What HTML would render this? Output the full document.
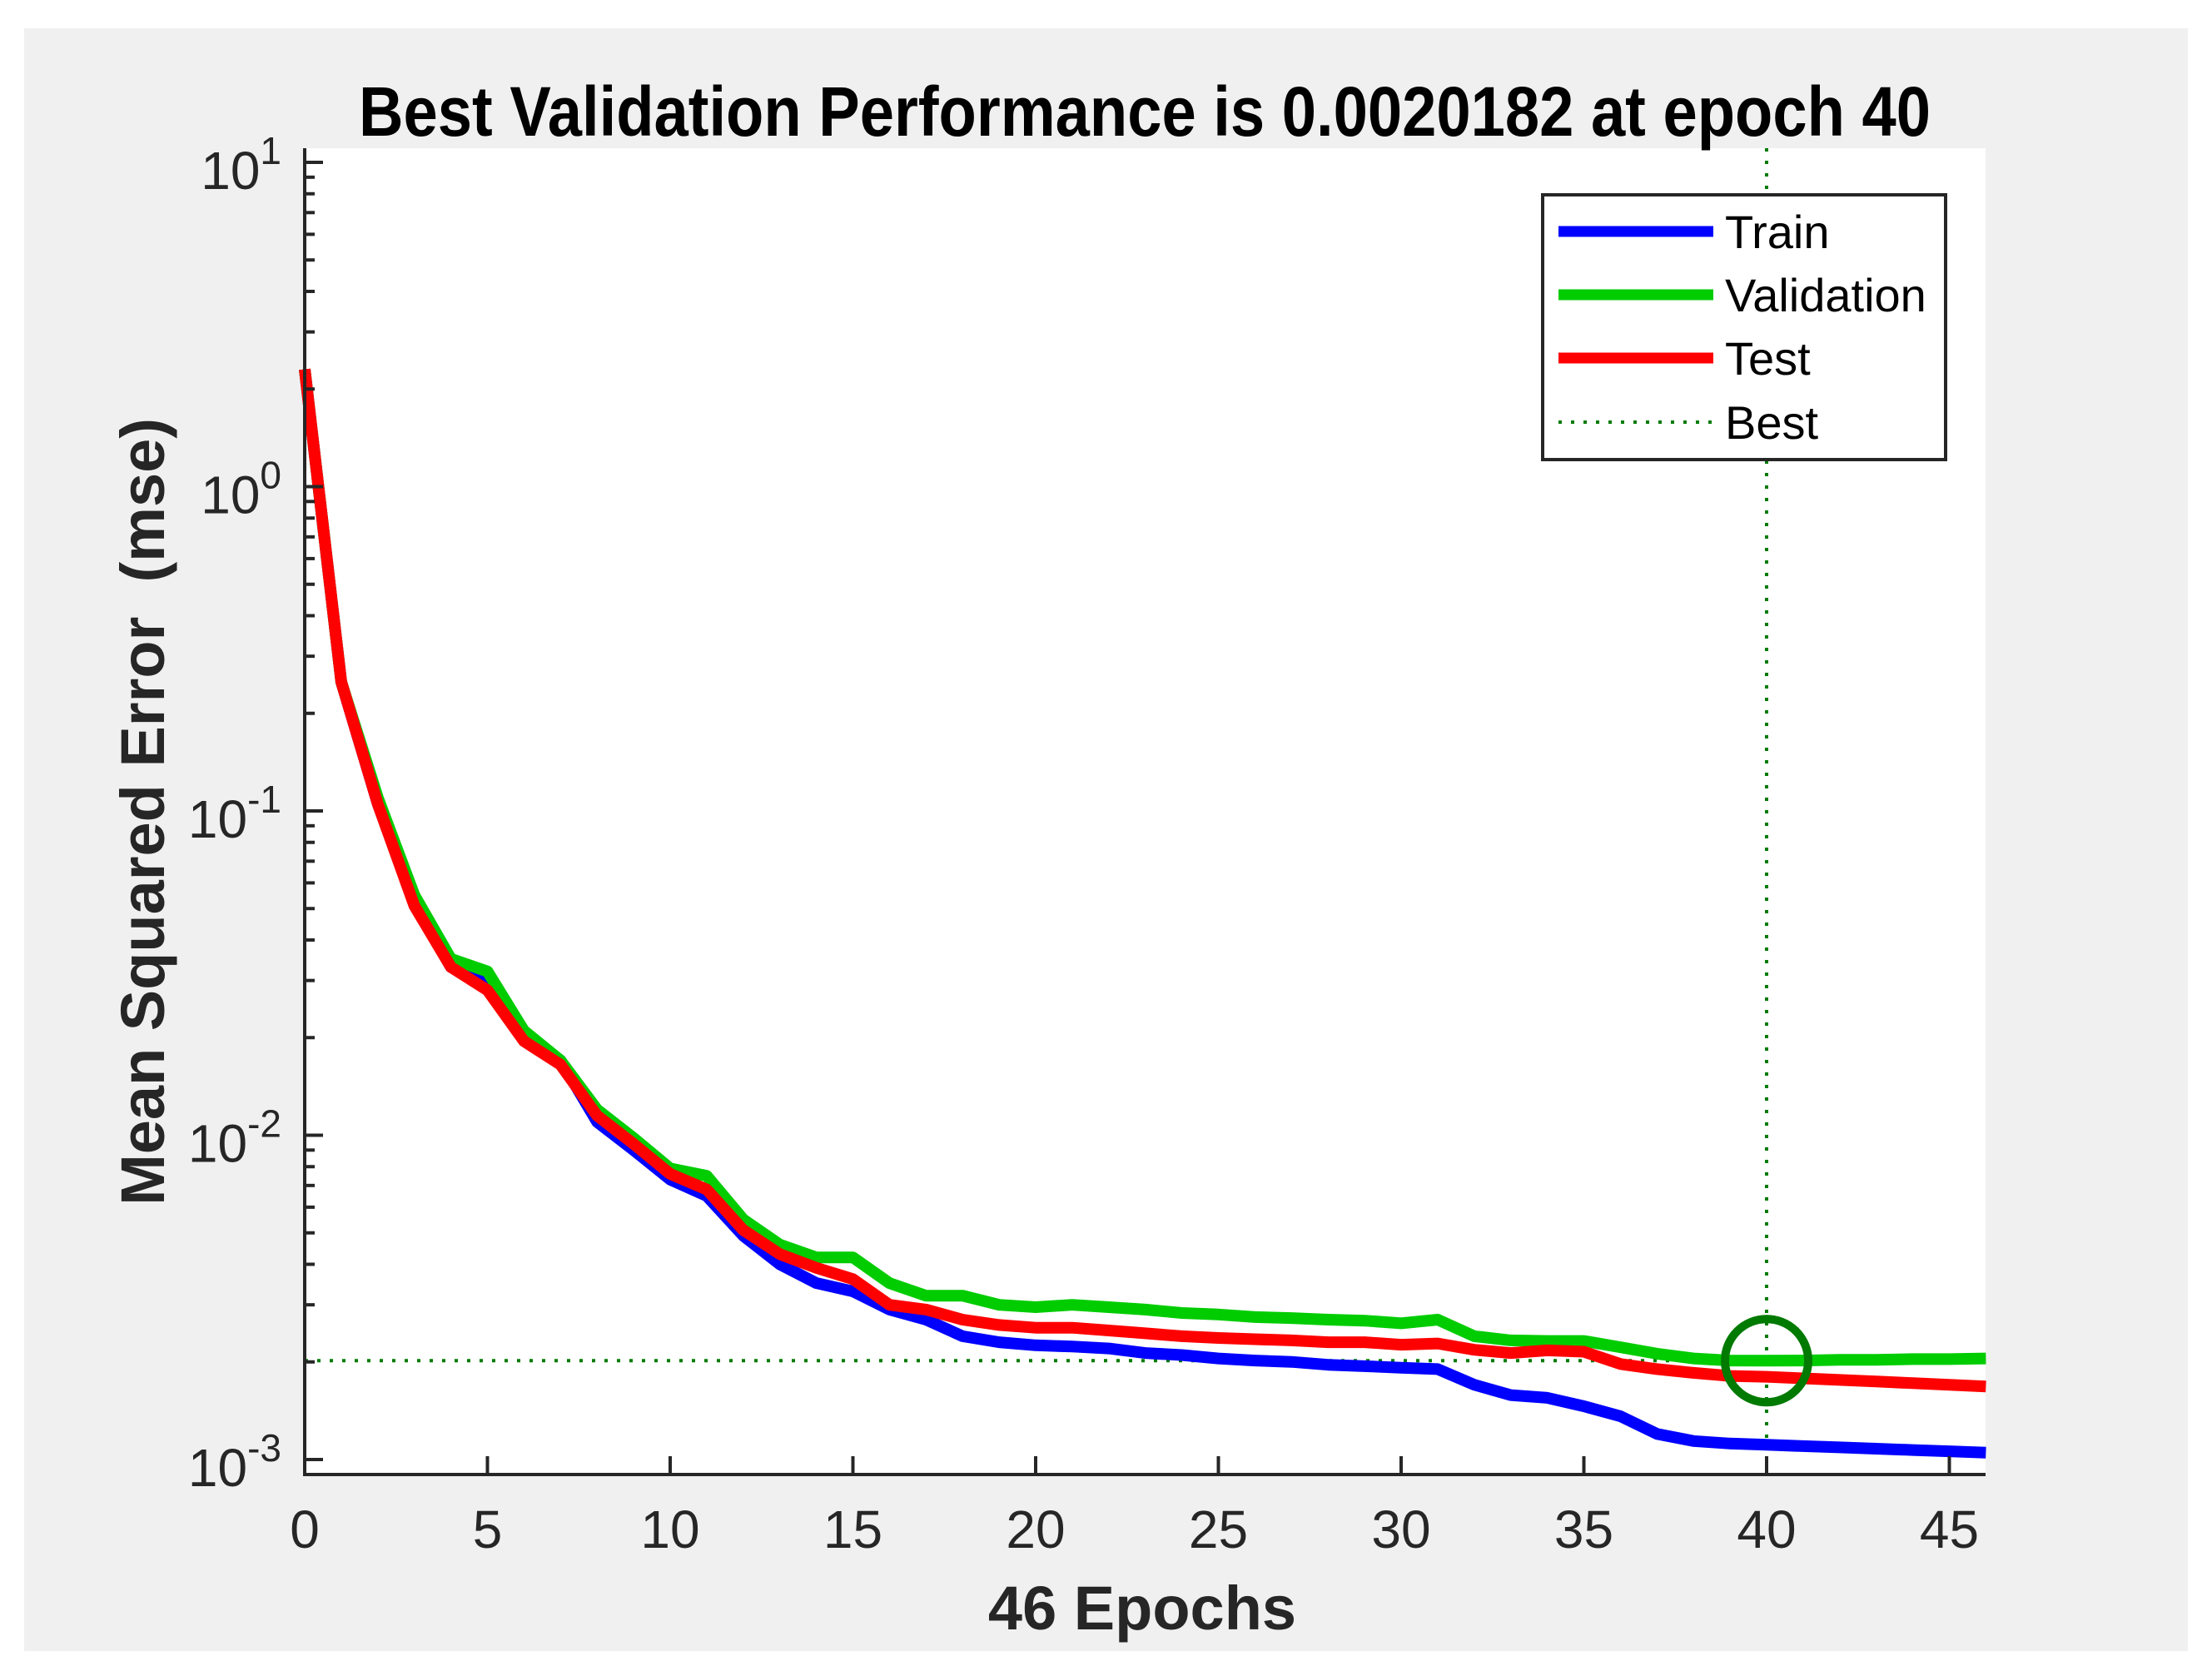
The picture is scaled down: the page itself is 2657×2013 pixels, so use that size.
<!DOCTYPE html>
<html><head><meta charset="utf-8"><style>
html,body{margin:0;padding:0;background:#fff;}
svg{display:block;font-family:"Liberation Sans",Arial,sans-serif;}
</style></head><body>
<svg id="chart" width="2657" height="2013" viewBox="0 0 2657 2013">
<rect x="0" y="0" width="2657" height="2013" fill="#ffffff"/>
<rect x="29" y="34" width="2599" height="1949" fill="#f0f0f0"/>
<rect x="366" y="178" width="2019" height="1593" fill="#ffffff"/>
<text x="1375" y="163" font-size="84" font-weight="bold" text-anchor="middle" textLength="1888" lengthAdjust="spacingAndGlyphs" fill="#000">Best Validation Performance is 0.0020182 at epoch 40</text>
<text x="1372" y="1957" font-size="74" font-weight="bold" text-anchor="middle" fill="#262626">46 Epochs</text>
<text transform="translate(197,975) rotate(-90)" font-size="74" font-weight="bold" text-anchor="middle" fill="#262626">Mean Squared Error&#160; (mse)</text>
<g id="grid"></g>
<g id="series"></g>
<g id="axes"></g>
<g id="legend">
<rect x="1853" y="234" width="484" height="318" fill="#fff" stroke="#262626" stroke-width="4"/>
<line x1="1872" y1="278" x2="2058" y2="278" stroke="#0000ff" stroke-width="13"/>
<text x="2072" y="298" font-size="56" fill="#000">Train</text>
<line x1="1872" y1="354" x2="2058" y2="354" stroke="#00cc00" stroke-width="13"/>
<text x="2072" y="374" font-size="56" fill="#000">Validation</text>
<line x1="1872" y1="430" x2="2058" y2="430" stroke="#ff0000" stroke-width="13"/>
<text x="2072" y="450" font-size="56" fill="#000">Test</text>
<line x1="1872" y1="507" x2="2058" y2="507" stroke="#007a00" stroke-width="4" stroke-dasharray="4 11"/>
<text x="2072" y="527" font-size="56" fill="#000">Best</text>
</g>
</svg>
<script>
const epochs = [0,1,2,3,4,5,6,7,8,9,10,11,12,13,14,15,16,17,18,19,20,21,22,23,24,25,26,27,28,29,30,31,32,33,34,35,36,37,38,39,40,41,42,43,44,45,46];
const trainMse = [2.3,0.25,0.105,0.052,0.033,0.030,0.020,0.017,0.011,0.009,0.0073,0.0065,0.0049,0.0040,0.0035,0.0033,0.0029,0.0027,0.0024,0.0023,0.00225,0.00223,0.0022,0.00213,0.0021,0.00205,0.00202,0.002,0.00196,0.00194,0.00192,0.0019,0.0017,0.00158,0.00155,0.00146,0.00136,0.0012,0.00114,0.00112,0.00111,0.0011,0.00109,0.00108,0.00107,0.00106,0.00105];
const validationMse = [2.3,0.25,0.11,0.055,0.035,0.032,0.021,0.017,0.012,0.0098,0.0079,0.0075,0.0055,0.0046,0.0042,0.0042,0.0035,0.0032,0.0032,0.003,0.00295,0.003,0.00295,0.0029,0.00283,0.0028,0.00275,0.00273,0.0027,0.00268,0.00263,0.0027,0.0024,0.00233,0.00232,0.00232,0.00222,0.00212,0.00205,0.00202,0.0020182,0.00202,0.00203,0.00203,0.00204,0.00204,0.00205];
const testMse = [2.3,0.25,0.105,0.051,0.033,0.028,0.0195,0.0165,0.0115,0.0094,0.0076,0.0068,0.0051,0.0043,0.0039,0.0036,0.003,0.0029,0.0027,0.0026,0.00255,0.00255,0.0025,0.00245,0.0024,0.00237,0.00235,0.00233,0.0023,0.0023,0.00226,0.00228,0.00218,0.00213,0.00217,0.00215,0.00197,0.0019,0.00185,0.00181,0.0018,0.00178,0.00176,0.00174,0.00172,0.0017,0.00168];
const bestEpoch = 40;
const bestValue = 0.0020182;
const xTicks = [0,5,10,15,20,25,30,35,40,45];
const yDecades = [-3,-2,-1,0,1];

const NS = "http://www.w3.org/2000/svg";
const X0 = 366, PXE = 43.9, Y3 = 1753, DEC = 389.5, TOP = 178, BOT = 1771, RIGHT = 2385;
function xs(e){ return X0 + e*PXE; }
function ys(v){ return Y3 - (Math.log10(v)+3)*DEC; }
function mk(tag, attrs, parent){ const el=document.createElementNS(NS,tag); for(const k in attrs) el.setAttribute(k,attrs[k]); parent.appendChild(el); return el; }

const grid = document.getElementById('grid');
const bl = mk('line',{x1:X0,y1:ys(bestValue),x2:RIGHT,y2:ys(bestValue),stroke:'#007a00','stroke-width':4,'stroke-dasharray':'4 11'},grid);


const bv = mk('line',{x1:xs(bestEpoch),y1:TOP,x2:xs(bestEpoch),y2:BOT,stroke:'#007a00','stroke-width':4,'stroke-dasharray':'4 11'},grid);



const series = document.getElementById('series');
const defs = [[trainMse,'#0000ff','train-line'],[validationMse,'#00cc00','validation-line'],[testMse,'#ff0000','test-line']];
defs.forEach(d=>{
  const pts = epochs.map((e,i)=>xs(e).toFixed(1)+','+ys(d[0][i]).toFixed(1)).join(' ');
  const pl = mk('polyline',{points:pts,fill:'none',stroke:d[1],'stroke-width':14,'stroke-linejoin':'round'},series);
  
  
});
const c = mk('circle',{cx:xs(bestEpoch),cy:ys(bestValue),r:50,fill:'none',stroke:'#007a00','stroke-width':10},series);



const axes = document.getElementById('axes');
const ax = mk('path',{d:`M${X0},${TOP} V${BOT} H${RIGHT}`,fill:'none',stroke:'#262626','stroke-width':4},axes);


xTicks.forEach(t=>{
  const tl = mk('line',{x1:xs(t),y1:BOT,x2:xs(t),y2:BOT-22,stroke:'#262626','stroke-width':4},axes);
  
  
  const tx = mk('text',{x:xs(t),y:1859,'font-size':64,'text-anchor':'middle',fill:'#262626'},axes);
  tx.textContent = String(t);
  
  
});
yDecades.forEach(d=>{
  const y = ys(Math.pow(10,d));
  const tl = mk('line',{x1:X0,y1:y,x2:X0+22,y2:y,stroke:'#262626','stroke-width':4},axes);
  
  
  const tx = mk('text',{x:338,y:y+32,'font-size':64,'text-anchor':'end',fill:'#262626'},axes);
  
  
  const b = document.createElementNS(NS,'tspan'); b.textContent='10'; tx.appendChild(b);
  const s = document.createElementNS(NS,'tspan'); s.setAttribute('dy','-30'); s.setAttribute('font-size','46'); s.textContent = String(d); tx.appendChild(s);
  if(d<1){
    for(let m=2;m<=9;m++){
      const ym = ys(m*Math.pow(10,d));
      const ml = mk('line',{x1:X0,y1:ym,x2:X0+12,y2:ym,stroke:'#262626','stroke-width':4},axes);
      
      
    }
  }
});
</script>
</body></html>
